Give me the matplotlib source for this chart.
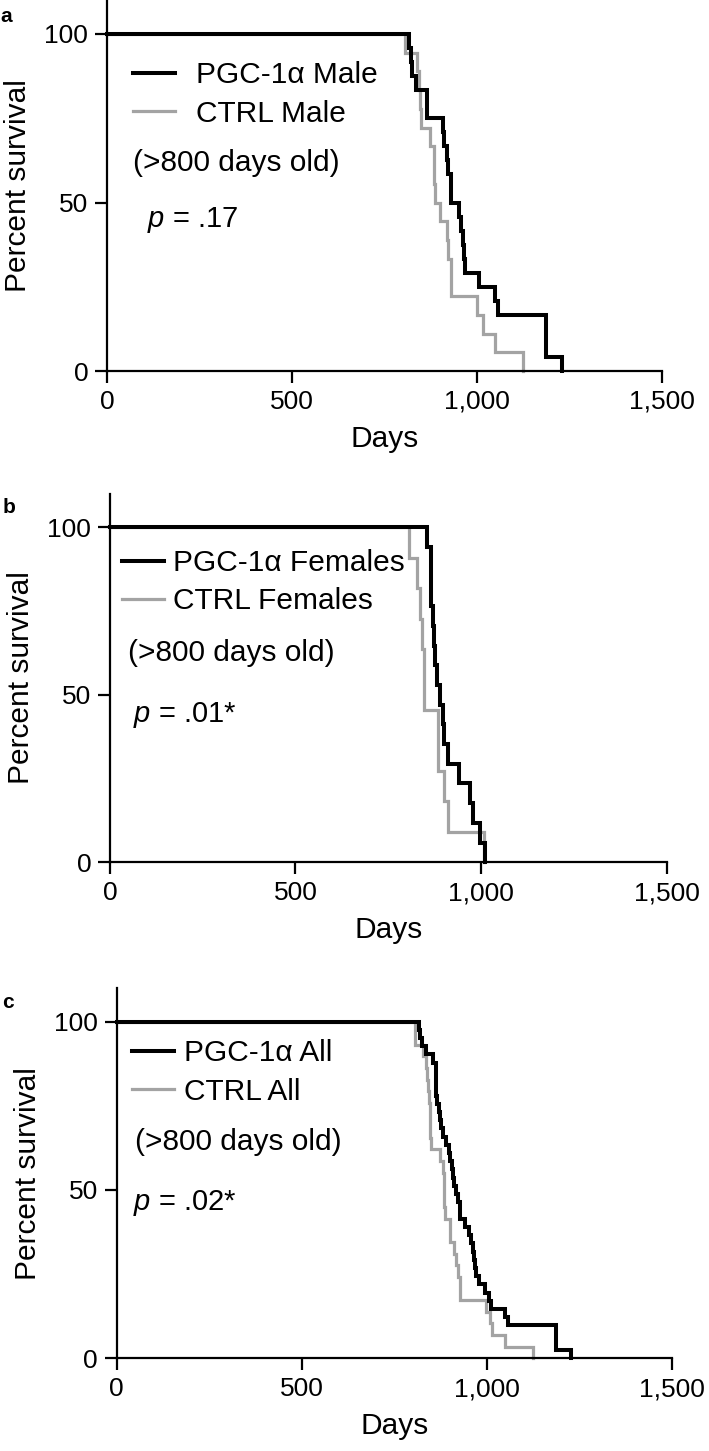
import matplotlib
matplotlib.use("Agg")
import matplotlib.pyplot as plt
import numpy as np

plt.rcParams["font.family"] = ["Liberation Sans", "DejaVu Sans"]
plt.rcParams["mathtext.fontset"] = "custom"
plt.rcParams["mathtext.it"] = "Liberation Sans:italic"
plt.rcParams["mathtext.rm"] = "Liberation Sans"

# days of death (mice >800 days old)
pgc_male = [817, 821, 825, 835, 864, 864, 907, 912, 918, 922, 929, 929,
            952, 958, 963, 966, 968, 1006, 1049, 1058, 1187, 1187, 1187, 1229]
ctrl_male = [805, 839, 844, 846, 849, 873, 883, 885, 886, 900, 918, 922,
             929, 929, 999, 1015, 1049, 1124]
pgc_female = [854, 864, 864, 865, 870, 874, 877, 881, 889, 898, 901, 910,
              940, 971, 978, 996, 1011]
ctrl_female = [807, 827, 836, 840, 847, 847, 885, 885, 900, 912, 1008]

panel_names = ["a", "b", "c"]
pgc_labels = ["PGC-1\u03b1 Male", "PGC-1\u03b1 Females", "PGC-1\u03b1 All"]
ctrl_labels = ["CTRL Male", "CTRL Females", "CTRL All"]
p_texts = [".17", ".01*", ".02*"]
x_ticks = [0, 500, 1000, 1500]
x_tick_labels = ["0", "500", "1,000", "1,500"]
y_ticks = [0, 50, 100]

series = [
    (pgc_male, ctrl_male),
    (pgc_female, ctrl_female),
    (pgc_male + pgc_female, ctrl_male + ctrl_female),
]

# layout per panel (figure fractions, data-coord positions of annotations)
layout = [
    dict(rect=[0.1509, 0.7443, 0.7828, 0.2555], leg=(70, 82.0), pad=0.72,
         note=(70, 61.7), p=(108, 44.8), lab=(0.0, 1 - 22 / 1451)),
    dict(rect=[0.1551, 0.4057, 0.7850, 0.2540], leg=(32, 83.6), pad=0.33,
         note=(48, 62.5), p=(62, 44.0), lab=(0.003, 1 - 513 / 1451)),
    dict(rect=[0.1646, 0.0639, 0.7828, 0.2552], leg=(41, 84.9), pad=0.33,
         note=(50, 64.3), p=(44, 46.1), lab=(0.003, 1 - 1008 / 1451)),
]

BLACK = "#000000"
GREY = "#a3a3a3"


def km_steps(days):
    t = np.sort(np.asarray(days, dtype=float))
    n = len(t)
    surv = 100.0 * (1 - np.arange(1, n + 1) / n)
    return np.concatenate([[0], t]), np.concatenate([[100], surv])


fig = plt.figure(figsize=(7.09, 14.51), dpi=100)

for i, (pgc, ctrl) in enumerate(series):
    lay = layout[i]
    ax = fig.add_axes(lay["rect"])

    x, y = km_steps(ctrl)
    ax.step(x, y, where="post", color=GREY, lw=2.3, label=ctrl_labels[i],
            solid_joinstyle="miter", clip_on=False, zorder=2)
    x, y = km_steps(pgc)
    ax.step(x, y, where="post", color=BLACK, lw=2.9, label=pgc_labels[i],
            solid_joinstyle="miter", clip_on=False, zorder=3)

    ax.set_xlim(0, 1500)
    ax.set_ylim(0, 110)
    ax.set_xticks(x_ticks)
    ax.set_xticklabels(x_tick_labels)
    ax.set_yticks(y_ticks)
    for side in ["top", "right"]:
        ax.spines[side].set_visible(False)
    for side in ["left", "bottom"]:
        ax.spines[side].set_linewidth(1.6)
    ax.tick_params(direction="out", length=8.5, width=1.6, labelsize=19,
                   pad=5)
    ax.set_xlabel("Days", fontsize=21.5, labelpad=8)
    ax.set_ylabel("Percent survival", fontsize=21.5, labelpad=9)

    handles, labels = ax.get_legend_handles_labels()
    ax.legend(handles[::-1], labels[::-1], loc="center left",
              bbox_to_anchor=lay["leg"], bbox_transform=ax.transData,
              frameon=False, fontsize=21.5, handlelength=1.4,
              handletextpad=lay["pad"], labelspacing=0.35, borderpad=0,
              borderaxespad=0)

    ax.text(lay["note"][0], lay["note"][1], "(>800 days old)", fontsize=21.5,
            va="center", ha="left")
    ax.text(lay["p"][0], lay["p"][1], "$p$ = " + p_texts[i], fontsize=21,
            va="center", ha="left")

    fig.text(lay["lab"][0], lay["lab"][1], panel_names[i], fontsize=15,
             fontweight="bold", va="baseline", ha="left")

fig.savefig("out.png", dpi=100)
